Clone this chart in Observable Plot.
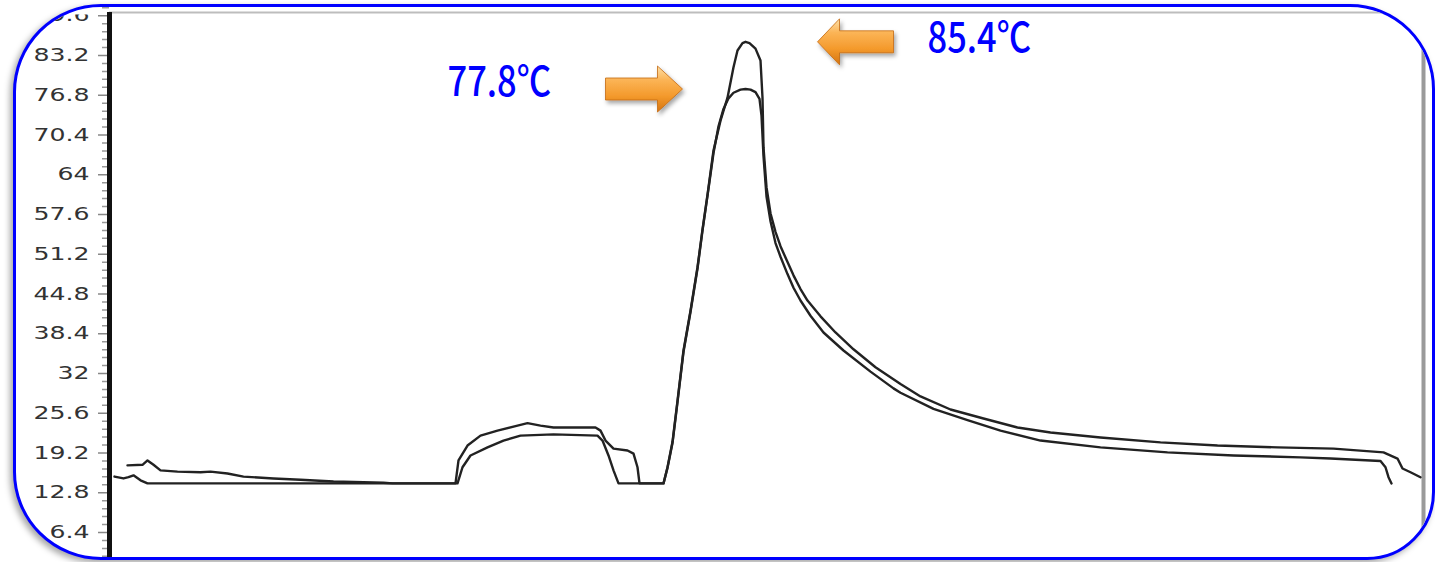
<!DOCTYPE html>
<html>
<head>
<meta charset="utf-8">
<script src="https://cdn.jsdelivr.net/npm/d3@7"></script>
<script src="https://cdn.jsdelivr.net/npm/@observablehq/plot@0.6"></script>
<style>
  html, body { margin: 0; padding: 0; background: #fff; }
  #wrap { position: relative; width: 1435px; height: 562px; overflow: hidden; background: #fff; }
  #frame { position: absolute; left: 13px; top: 4px; width: 1416px; height: 550px;
           border: 3px solid #0000ff; border-radius: 88px 85px 68px 88px; overflow: hidden;
           background: #fff; box-shadow: -3px 3px 6px rgba(0,0,0,0.35); }
  #chart { position: absolute; left: -16px; top: -7px; width: 1435px; height: 562px; }
</style>
</head>
<body>
<div id="wrap"><div id="frame"><div id="chart"></div></div></div>
<script>
// ---- data (time in arbitrary units, temperature in °C) ----
const timeA = [18,33,38,44,51,68,91,101,118,134,164,191,224,274,283,346,349,358,371,388,408,418,431,444,486,491,496,504,518,524,528,530,554,558,563,568,574,581,588,593,598,604,611,618,624,628,633,636,640,646,651,653,654,657,661,666,671,677,684,691,698,711,726,744,766,791,811,841,874,908,941,991,1051,1108,1168,1224,1274,1288,1293,1301,1311];
const tempA = [17.2,17.3,18.0,17.3,16.4,16.2,16.1,16.2,15.9,15.4,15.1,14.9,14.6,14.4,14.3,14.3,18.0,20.4,22.0,22.8,23.6,24.0,23.6,23.3,23.3,22.8,21.2,19.9,19.6,19.1,16.9,14.3,14.3,16.9,21.0,27.6,35.7,42.1,49.1,55.2,60.8,67.9,72.7,76.4,81.3,84.0,85.2,85.4,85.2,84.3,82.4,76.4,68.4,62.0,57.8,54.8,52.5,50.3,47.8,45.6,43.75,41.2,38.6,35.9,33.0,30.3,28.3,26.2,24.75,23.3,22.5,21.7,20.9,20.4,20.1,19.9,19.3,18.3,16.7,16.1,15.3];

const timeB = [5,14,19,24,31,38,348,353,361,378,394,411,444,488,493,499,504,509,554,558,563,568,574,581,588,593,598,604,609,614,619,624,631,636,641,646,650,652,654,657,661,666,671,678,684,691,701,714,734,761,784,791,824,858,891,931,991,1058,1124,1191,1221,1271,1276,1279,1282];
const tempB = [15.4,15.1,15.3,15.6,14.8,14.3,14.3,16.9,18.8,20.1,21.2,22.0,22.2,22.0,21.2,18.8,16.4,14.3,14.3,16.8,20.8,27.4,35.5,41.9,48.9,55.0,60.6,67.5,71.8,74.6,76.3,77.2,77.7,77.8,77.7,77.3,76.2,73.5,67.0,60.5,56.5,53.0,50.8,48.0,45.8,43.75,41.3,38.6,35.7,32.3,29.6,28.9,26.3,24.5,22.8,21.2,20.1,19.3,18.8,18.5,18.3,17.9,16.9,15.3,14.3];

const majorTicks = [6.4,12.8,19.2,25.6,32,38.4,44.8,51.2,57.6,64,70.4,76.8,83.2,89.6];
const tickLabels = ["6.4","12.8","19.2","25.6","32","38.4","44.8","51.2","57.6","64","70.4","76.8","83.2","89.6"];

const noteLabels = ["77.8℃", "85.4℃"];
const noteT = [338, 818];
const noteV = [78.8, 85.8];

const arrowT = [573, 708];
const arrowV = [77.8, 85.4];

// ---- build tables ----
const seriesA = timeA.map((t, i) => ({t, v: tempA[i]}));
const seriesB = timeB.map((t, i) => ({t, v: tempB[i]}));
const notes = noteLabels.map((s, i) => ({s, t: noteT[i], v: noteV[i]}));
const minorTicks = [];
[0, ...majorTicks].forEach(m => { for (let k = 1; k < 5; k++) minorTicks.push(+(m + 1.28 * k).toFixed(2)); });

const yMin = 2.05, yMax = 90.12, xMax = 1314;

const arrowRight = { draw(ctx) { ctx.moveTo(0,0); ctx.lineTo(-25,-23); ctx.lineTo(-25,-11); ctx.lineTo(-77,-11); ctx.lineTo(-77,11); ctx.lineTo(-25,11); ctx.lineTo(-25,23); ctx.closePath(); } };
const arrowLeft  = { draw(ctx) { ctx.moveTo(0,0); ctx.lineTo(22,-23); ctx.lineTo(22,-11); ctx.lineTo(76,-11); ctx.lineTo(76,11); ctx.lineTo(22,11); ctx.lineTo(22,23); ctx.closePath(); } };

const plot = Plot.plot({
  width: 1435, height: 562,
  marginLeft: 109, marginRight: 12, marginTop: 12, marginBottom: 3,
  x: {domain: [0, xMax], axis: null},
  y: {domain: [yMin, yMax], axis: null},
  style: {background: "transparent", fontFamily: "DejaVu Sans", fontSize: "18px", overflow: "visible"},
  marks: [
    Plot.ruleY([yMax], {stroke: "#bdbdbd", strokeWidth: 2}),
    Plot.ruleX([xMax], {stroke: "#9a9a9a", strokeWidth: 4}),
    Plot.axisY({ticks: minorTicks, tickSize: 7, tickFormat: () => "", label: null, stroke: "#999", strokeWidth: 1.5}),
    Plot.axisY({ticks: majorTicks, tickSize: 11, tickPadding: 9, label: null,
      tickFormat: d => tickLabels[majorTicks.indexOf(d)], stroke: "#888", strokeWidth: 1.5, fill: "#333"}),
    Plot.line(seriesA, {x: "t", y: "v", stroke: "#222", strokeWidth: 2.4}),
    Plot.line(seriesB, {x: "t", y: "v", stroke: "#222", strokeWidth: 2.4}),
    Plot.ruleX([0], {stroke: "#111", strokeWidth: 5}),
    Plot.text(notes, {x: "t", y: "v", text: "s", textAnchor: "start", lineAnchor: "middle",
      fontSize: 41, fontWeight: 500, fontFamily: "Noto Sans CJK SC", fill: "#0000ff"}),
    Plot.dot([{t: arrowT[0], v: arrowV[0]}], {x: "t", y: "v", symbol: arrowRight, fill: "#f59a2e", stroke: "#c46a12", strokeWidth: 0.8}),
    Plot.dot([{t: arrowT[1], v: arrowV[1]}], {x: "t", y: "v", symbol: arrowLeft, fill: "#f59a2e", stroke: "#c46a12", strokeWidth: 0.8})
  ]
});

// defs for arrow gradient and shadow
const ns = "http://www.w3.org/2000/svg";
const defs = document.createElementNS(ns, "defs");
defs.innerHTML = `
  <linearGradient id="arrowGrad" x1="0" y1="0" x2="0" y2="1">
    <stop offset="0" stop-color="#fde0a8"/>
    <stop offset="0.3" stop-color="#fbb456"/>
    <stop offset="0.65" stop-color="#f49a2c"/>
    <stop offset="1" stop-color="#d47412"/>
  </linearGradient>
  <filter id="arrowShadow" x="-20%" y="-30%" width="150%" height="170%">
    <feDropShadow dx="2" dy="3" stdDeviation="2" flood-color="#000" flood-opacity="0.35"/>
  </filter>
  <clipPath id="topClip"><rect x="0" y="14" width="1435" height="560"/></clipPath>`;
plot.insertBefore(defs, plot.firstChild);

plot.querySelectorAll('g[aria-label="dot"]').forEach(g => {
  g.setAttribute("fill", "url(#arrowGrad)");
  g.setAttribute("filter", "url(#arrowShadow)");
  g.querySelectorAll("path").forEach(p => p.setAttribute("fill", "url(#arrowGrad)"));
});
plot.querySelectorAll('g[aria-label="y-axis tick label"]').forEach(g => {
  g.setAttribute("clip-path", "url(#topClip)");
  g.querySelectorAll("text").forEach(t => {
    const tr = t.getAttribute("transform");
    if (tr) t.setAttribute("transform", tr + " scale(1.4,1)");
  });
});
plot.querySelectorAll('g[aria-label="text"] text').forEach(t => {
  const tr = t.getAttribute("transform");
  if (tr) t.setAttribute("transform", tr + " scale(0.84,1)");
});

document.getElementById("chart").appendChild(plot);
</script>
</body>
</html>
